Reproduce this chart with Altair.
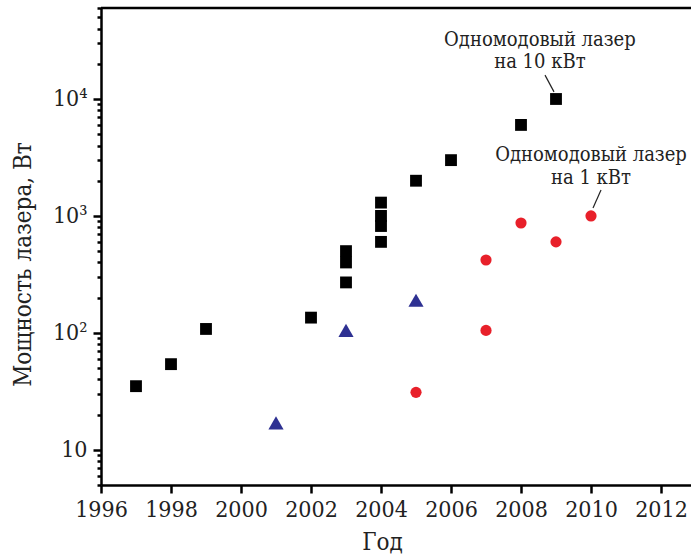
import altair as alt
import pandas as pd

# Black squares
sq_year = [1997, 1998, 1999, 2002, 2003, 2003, 2003, 2004, 2004, 2004, 2004, 2005, 2006, 2008, 2009]
sq_power = [35, 54, 108, 135, 500, 400, 270, 1300, 1000, 820, 600, 2000, 3000, 6000, 10000]

# Blue triangles
tri_year = [2001, 2003, 2005]
tri_power = [17, 105, 190]

# Red circles
circ_year = [2005, 2007, 2007, 2008, 2009, 2010]
circ_power = [31, 420, 105, 870, 600, 1000]

x_ticks = list(range(1996, 2013))
y_ticks = [m * 10 ** e for e in range(0, 5) for m in range(1, 10)]
y_ticks = [v for v in y_ticks if 5 <= v <= 60000]

ann_lines = ["Одномодовый лазер", "на 10 кВт", "Одномодовый лазер", "на 1 кВт"]

FONT = "DejaVu Serif Condensed, DejaVu Serif, serif"
X_DOM = [1996, 2012.857]
Y_DOM = [5, 60000]

sq = pd.DataFrame({"year": sq_year, "power": sq_power})
tri = pd.DataFrame({"year": tri_year, "power": tri_power})
circ = pd.DataFrame({"year": circ_year, "power": circ_power})

xscale = alt.Scale(domain=X_DOM, nice=False, zero=False)
yscale = alt.Scale(type="log", domain=Y_DOM, nice=False)

xaxis = alt.Axis(
    values=x_ticks,
    labelExpr="datum.value % 2 == 0 ? datum.label : ''",
    tickSize={"condition": {"test": "datum.value % 2 == 0", "value": 8}, "value": 5},
    format="d",
    grid=False,
    title="Год",
    labelFont=FONT, labelFontSize=23, labelColor="#222",
    titleFont=FONT, titleFontSize=24, titleFontWeight="normal", titleColor="#222",
    labelPadding=5, titlePadding=9, titleX=281,
    domainColor="black", domainWidth=2.5, tickColor="black", tickWidth=2.5,
    labelFlush=False, labelOverlap=False,
)
yaxis = alt.Axis(
    values=y_ticks,
    labelExpr="datum.value == 10 ? '10' : datum.value == 100 ? '10²' : datum.value == 1000 ? '10³' : datum.value == 10000 ? '10⁴' : ''",
    tickSize={"condition": {"test": "abs(log(datum.value)/LN10 - round(log(datum.value)/LN10)) < 0.000001", "value": 8}, "value": 4},
    grid=False,
    title="Мощность лазера, Вт",
    labelFont=FONT, labelFontSize=23, labelColor="#222",
    titleFont=FONT, titleFontSize=24, titleFontWeight="normal", titleColor="#222",
    labelPadding=6, titlePadding=17, titleY=256,
    domainColor="black", domainWidth=2.5, tickColor="black", tickWidth=2.5,
    labelFlush=False, labelOverlap=False,
)

base_x = alt.X("year:Q", scale=xscale, axis=xaxis)
base_y = alt.Y("power:Q", scale=yscale, axis=yaxis)

squares = alt.Chart(sq).mark_point(shape="square", filled=True, size=140, color="black", opacity=1).encode(x=base_x, y=base_y)
tris = alt.Chart(tri).mark_point(shape="triangle-up", filled=True, size=230, color="#2e3192", opacity=1).encode(
    x=alt.X("year:Q", scale=xscale), y=alt.Y("power:Q", scale=yscale))
circs = alt.Chart(circ).mark_point(shape="circle", filled=True, size=125, color="#e8202a", opacity=1).encode(
    x=alt.X("year:Q", scale=xscale), y=alt.Y("power:Q", scale=yscale))

ann = pd.DataFrame({
    "text": ann_lines,
    "year": [2008.54, 2008.54, 2010.0, 2010.0],
    "power": [31900, 20700, 3320, 2110],
})
texts = alt.Chart(ann).mark_text(font=FONT, fontSize=20, color="#222", baseline="middle", align="center").encode(
    x=alt.X("year:Q", scale=xscale), y=alt.Y("power:Q", scale=yscale), text="text:N")

leaders = pd.DataFrame({
    "year": [2008.686, 2010.286], "year2": [2008.943, 2010.057],
    "power": [16000, 1667], "power2": [11500, 1170],
})
leader_rules = alt.Chart(leaders).mark_rule(color="#222", strokeWidth=1.2).encode(
    x=alt.X("year:Q", scale=xscale), x2="year2:Q",
    y=alt.Y("power:Q", scale=yscale), y2="power2:Q")

top_border = alt.Chart(pd.DataFrame({"a": [0]})).mark_rule(color="black", strokeWidth=2.5).encode(
    x=alt.value(0), x2=alt.value(590), y=alt.value(0))

chart = alt.layer(squares, tris, circs, texts, leader_rules, top_border).properties(
    width=590, height=477,
    autosize=alt.AutoSizeParams(type="none"),
    padding={"left": 101, "top": 8, "right": 0, "bottom": 72},
).configure_view(stroke=None).configure(background="white")

chart.save("out.html", embed_options={"renderer": "svg", "actions": False})
